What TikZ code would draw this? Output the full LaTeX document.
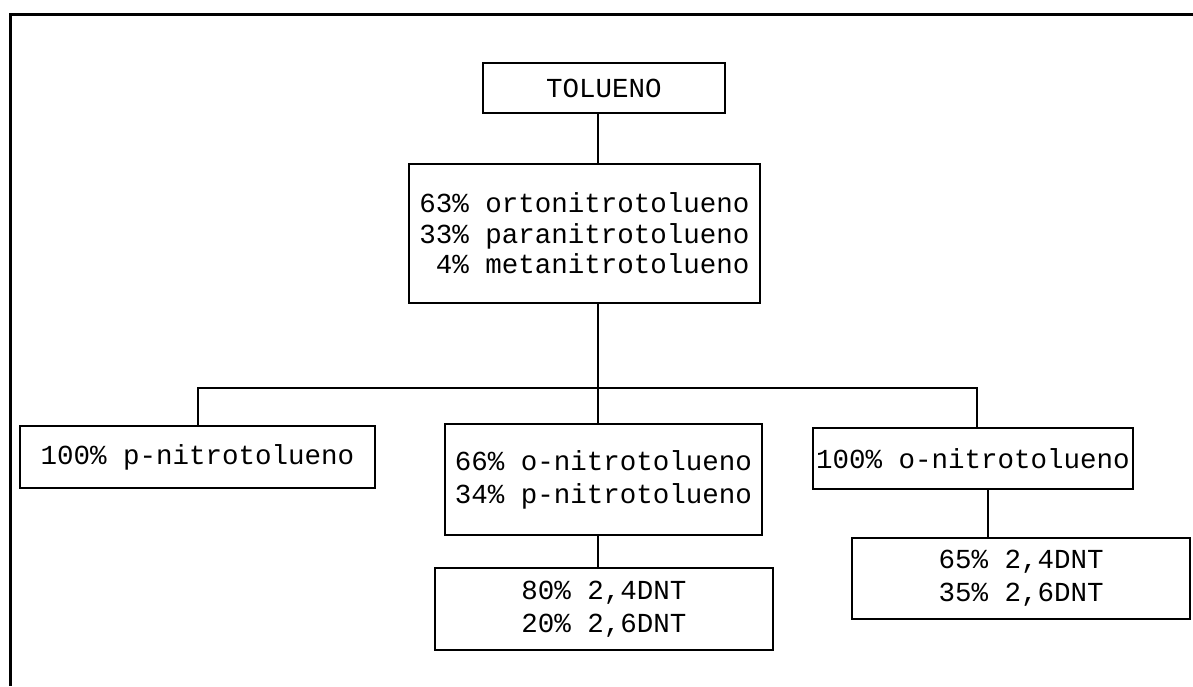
\documentclass[tikz,border=0pt]{standalone}
\usepackage{fontspec}
\setmonofont{Liberation Mono}
\begin{document}
\begin{tikzpicture}[x=1pt,y=-1pt,
  box/.style={draw=black,line width=2pt,rectangle,inner sep=0pt,font=\ttfamily\fontsize{27.5}{33}\selectfont},
  conn/.style={draw=black,line width=2pt}]
\useasboundingbox (0,0) rectangle (1193,686);
\fill[white] (0,0) rectangle (1193,686);
\draw[line width=3pt] (1193,14) -- (10,14) -- (10,686);
\node[box,minimum width=242pt,minimum height=50pt] (tol) at (604,88) {TOLUENO};
\node[box,minimum width=351pt,minimum height=139pt,align=right,font=\ttfamily\fontsize{27.5}{30.5}\selectfont] (mid) at (584.5,233.5)
  {63\% ortonitrotolueno\\33\% paranitrotolueno\\4\% metanitrotolueno};
\node[box,minimum width=355pt,minimum height=62pt] (lft) at (197.5,457) {100\% p-nitrotolueno};
\node[box,minimum width=317pt,minimum height=111pt,align=left] (cen) at (603.5,479.5)
  {66\% o-nitrotolueno\\34\% p-nitrotolueno};
\node[box,minimum width=320pt,minimum height=61pt] (rgt) at (973,458.5) {100\% o-nitrotolueno};
\node[box,minimum width=338pt,minimum height=82pt,align=left] (low) at (604,609)
  {80\% 2,4DNT\\20\% 2,6DNT};
\node[box,minimum width=338pt,minimum height=81pt,align=left] (lowr) at (1021,578.5)
  {65\% 2,4DNT\\35\% 2,6DNT};
\coordinate (cx) at (598,0);
\coordinate (bl) at (198,388);
\coordinate (br) at (977,388);
\coordinate (rx) at (988,0);
\draw[conn] (tol.south -| cx) -- (mid.north -| cx);
\draw[conn] (mid.south -| cx) -- (cen.north -| cx);
\draw[conn] (lft.north -| bl) -- (bl) -- (br) -- (rgt.north -| br);
\draw[conn] (cen.south -| cx) -- (low.north -| cx);
\draw[conn] (rgt.south -| rx) -- (lowr.north -| rx);
\end{tikzpicture}
\end{document}
